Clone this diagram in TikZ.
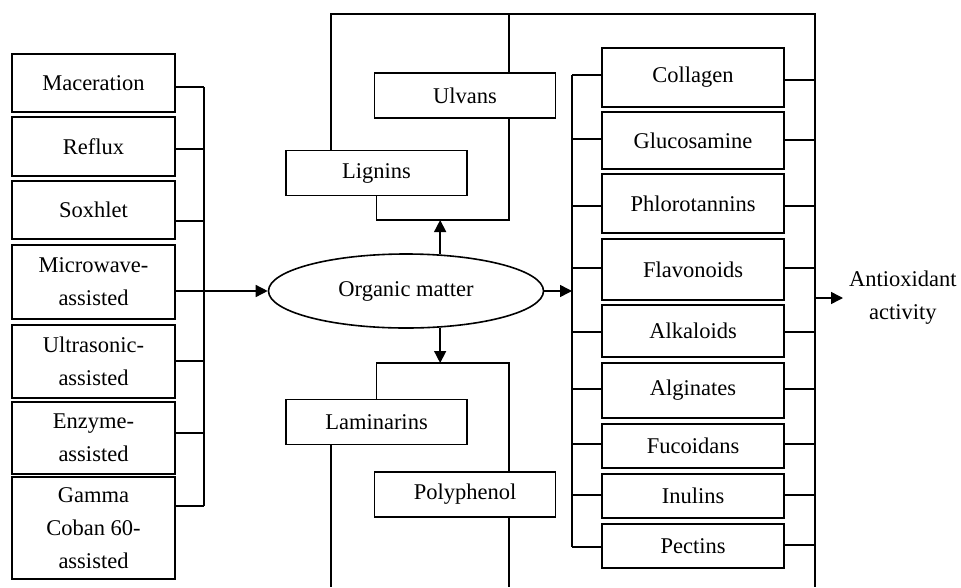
\documentclass[tikz,border=0pt]{standalone}
\usepackage{fontspec}
\setmainfont{Liberation Serif}
\usetikzlibrary{arrows.meta,shapes.geometric}
\newcommand{\boxfont}{\fontsize{22.5}{33}\selectfont}

\begin{document}
\begin{tikzpicture}[x=1pt,y=-1pt,
    box/.style={draw,line width=2.2pt,inner sep=0pt,align=center,font=\boxfont},
    lbox/.style={box,minimum width=163pt},
    rbox/.style={box,minimum width=182pt},
    mbox/.style={box,line width=1.7pt,minimum width=181pt,minimum height=45pt},
    ln/.style={line width=1.4pt},
    arr/.style={line width=1.5pt,-{Triangle[length=12pt,width=12pt]}}]
        \useasboundingbox (0,0) rectangle (961,587);
        \node[lbox,minimum height=58pt] (mac) at (93.5,83) {Maceration};
        \node[lbox,minimum height=59pt] (ref) at (93.5,146.5) {Reflux};
        \node[lbox,minimum height=58pt] (sox) at (93.5,210) {Soxhlet};
        \node[lbox,minimum height=74pt] (mic) at (93.5,282) {Microwave-\\assisted};
        \node[lbox,minimum height=73pt] (ult) at (93.5,361.5) {Ultrasonic-\\assisted};
        \node[lbox,minimum height=72pt] (enz) at (93.5,438) {Enzyme-\\assisted};
        \node[lbox,minimum height=102pt] (gam) at (93.5,528) {Gamma\\Coban 60-\\assisted};
        \draw[ln] (204,87) -- (204,506);
        \foreach \n/\y in {mac/87,ref/149,sox/221,ult/361,enz/433,gam/506}
            \draw[ln] (\n.east |- 0,\y) -- (204,\y);
        \node[draw,ellipse,line width=1.6pt,minimum width=275pt,minimum height=74pt,inner sep=0pt,font=\boxfont] (om) at (406,291) {Organic matter};
        \draw[arr] (mic.east |- 0,291) -- (om.west);
        \node[mbox] (ulv) at (465,95.5) {Ulvans};
        \node[mbox] (lig) at (376.5,173) {Lignins};
        \node[mbox] (lam) at (376.5,422) {Laminarins};
        \node[mbox] (pol) at (465,494.5) {Polyphenol};
        \draw[arr] (om.47) -- (om.47 |- 0,220);
        \draw[ln] (lig.south) |- (509,220) -- (ulv.south -| 509,0);
        \draw[ln] (ulv.north -| 509,0) -- (509,14);
        \draw[ln] (lig.north -| 331,0) |- (815,14) -- (815,587);
        \draw[arr] (om.-47) -- (om.-47 |- 0,363);
        \draw[ln] (lam.north) |- (509,363) -- (pol.north -| 509,0);
        \draw[ln] (lam.south -| 331,0) -- (331,587);
        \draw[ln] (pol.south -| 509,0) -- (509,587);
        \node[rbox,minimum height=59pt] (col) at (693,77.5) {Collagen};
        \node[rbox,minimum height=57pt] (glu) at (693,140.5) {Glucosamine};
        \node[rbox,minimum height=59pt] (phl) at (693,203.5) {Phlorotannins};
        \node[rbox,minimum height=61pt] (fla) at (693,269.5) {Flavonoids};
        \node[rbox,minimum height=52pt] (alk) at (693,331) {Alkaloids};
        \node[rbox,minimum height=55pt] (alg) at (693,390.5) {Alginates};
        \node[rbox,minimum height=44pt] (fuc) at (693,446) {Fucoidans};
        \node[rbox,minimum height=44pt] (inu) at (693,496) {Inulins};
        \node[rbox,minimum height=44pt] (pec) at (693,546) {Pectins};
        \draw[arr] (om.east) -- (om.east -| 572,0);
        \draw[ln] (572,75) -- (572,547);
        \foreach \n/\yl/\yr in {col/75/80,glu/139/140,phl/206/206,fla/268/268,alk/332/332,alg/389/389,fuc/444/444,inu/495/495,pec/547/545} {
            \draw[ln] (572,\yl) -- (\n.west |- 0,\yl);
            \draw[ln] (\n.east |- 0,\yr) -- (815,\yr);
        }
        \node[anchor=west,inner sep=0pt,align=center,font=\boxfont] (aa) at (849,298) {Antioxidant\\activity};
        \draw[arr,shorten >=6pt] (815,298) -- (aa.west);
      \end{tikzpicture}
\end{document}
